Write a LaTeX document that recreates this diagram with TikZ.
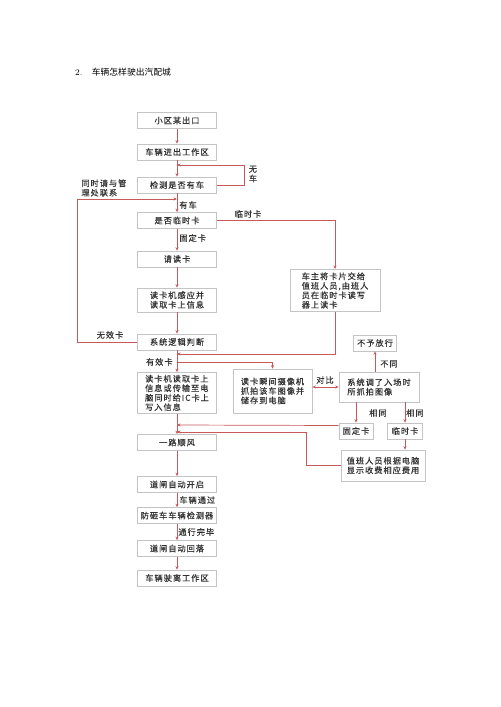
\documentclass[tikz,border=0pt]{standalone}
\usepackage{fontspec}
\usepackage{tikz}
\usetikzlibrary{arrows.meta, calc}
\newfontfamily\cjk[LetterSpace=12, FakeBold=0.3]{Noto Sans CJK SC}
\newfontfamily\cjktitle{Noto Sans CJK SC}
\definecolor{flow}{HTML}{C8585A}
\definecolor{frame}{HTML}{C4C4C4}

\begin{document}
\begin{tikzpicture}[x=0.03cm, y=-0.03cm,
    box/.style={rectangle, draw=frame, line width=0.6pt, fill=white, inner sep=1pt,
        minimum width=2.37cm, minimum height=0.48cm, align=left, text=black!80,
        font=\cjk\fontsize{7}{8.1}\selectfont},
    lbl/.style={inner sep=1pt, align=left, text=black!80, font=\cjk\fontsize{7}{8.1}\selectfont},
    arrow/.style={-{Stealth[length=3pt, width=2.6pt]}, draw=flow, line width=0.6pt},
    twoarrow/.style={{Stealth[length=3pt, width=2.6pt]}-{Stealth[length=3pt, width=2.6pt]}, draw=flow, line width=0.6pt}]

    \useasboundingbox (0,0) rectangle (500,707);

    % Title
    \node[anchor=west, inner sep=0pt, font=\fontsize{7.5}{9}\selectfont] (title) at (75,72)
        {2.\hspace{8pt}{\cjktitle 车辆怎样驶出汽配城}};

    % Main column
    \node[box] (exit) at (177,120.5) {小区某出口};
    \node[box] (zone) at (177,152) {车辆进出工作区};
    \node[box] (detect) at (177,185) {检测是否有车};
    \node[box] (istemp) at (177,220.5) {是否临时卡};
    \node[box] (read) at (177,259) {请读卡};
    \node[box, minimum height=0.72cm] (sense) at (177,300) {读卡机感应并\\读取卡上信息};
    \node[box] (logic) at (177,342) {系统逻辑判断};
    \node[box, minimum height=1.23cm] (write) at (177,393) {读卡机读取卡上\\信息或传输至电\\脑同时给IC卡上\\写入信息};
    \node[box] (bye) at (177,442.5) {一路顺风};
    \node[box] (open) at (177,484.5) {道闸自动开启};
    \node[box] (sensor) at (177,515.5) {防砸车车辆检测器};
    \node[box] (close) at (177,548.5) {道闸自动回落};
    \node[box] (leave) at (177,578) {车辆驶离工作区};

    % Right side boxes
    \node[box, minimum width=2.7cm, minimum height=1.27cm] (tempcard) at (335,290.5)
        {车主将卡片交给\\值班人员,由班人\\员在临时卡读写\\器上读卡};
    \node[box, minimum height=1.32cm] (snap) at (272.5,391) {读卡瞬间摄像机\\抓拍该车图像并\\储存到电脑};
    \node[box, minimum width=2.4cm, minimum height=0.9cm] (recall) at (379,387) {系统调了入场时\\所抓拍图像};
    \node[box, minimum width=1.29cm] (reject) at (375,343) {不予放行};
    \node[box, minimum width=1.02cm] (fixed) at (356,431) {固定卡};
    \node[box, minimum width=1.05cm] (temp) at (405,431) {临时卡};
    \node[box, minimum width=2.52cm, minimum height=0.93cm] (duty) at (383,465.5) {值班人员根据电脑\\显示收费相应费用};

    % Joints on the main column
    \coordinate (nocarjoin) at (177,165);
    \coordinate (invalidjoin) at (177,199);
    \coordinate (tempjoin) at (177,354);
    \coordinate (validsplit) at (177,362);
    \coordinate (fixedjoin) at (177,425);
    \coordinate (dutyjoin) at (177,432);

    % Main flow
    \draw[arrow] (exit) -- (zone);
    \draw[arrow] (zone) -- (detect);
    \draw[arrow] (detect) -- (istemp);
    \draw[arrow] (istemp) -- (read);
    \draw[arrow] (read) -- (sense);
    \draw[arrow] (sense) -- (logic);
    \draw[arrow] (logic) -- (write);
    \draw[arrow] (write) -- (bye);
    \draw[arrow] (bye) -- (open);
    \draw[arrow] (open) -- (sensor);
    \draw[arrow] (sensor) -- (close);
    \draw[arrow] (close) -- (leave);

    % Loops back to the column
    \draw[arrow] (detect.east) -- (244,185) |- (nocarjoin);
    \draw[arrow] (logic.west) -- (77,342) |- (invalidjoin);
    \draw[arrow] (istemp.east) -| (tempcard.north);
    \draw[arrow] (tempcard.south) |- (tempjoin);
    \draw[arrow] (validsplit) -| (snap.north);

    % Photo check
    \draw[twoarrow] (snap.east |- recall.west) -- (recall.west);
    \draw[arrow] (recall.north -| reject.south) -- (reject.south);
    \draw[arrow] (recall.south -| fixed.north) -- (fixed.north);
    \draw[arrow] (recall.south -| temp.north) -- (temp.north);
    \draw[arrow] (temp.south) -- (temp.south |- duty.north);
    \draw[arrow] ($(fixed.west)+(0,-5.5)$) -- (fixedjoin);
    \draw[arrow] (duty.west) -- (306,465.5) |- (dutyjoin);

    % Labels
    \node[lbl, align=center] (nocar) at (253,174) {无\\车};
    \node[lbl, anchor=west] (hascar) at (178,205) {有车};
    \node[lbl, anchor=west] (fixedlbl) at (178,238) {固定卡};
    \node[lbl] (templbl) at (248,214) {临时卡};
    \node[lbl] (invalid) at (110,335) {无效卡};
    \node[lbl, anchor=west] (contact) at (80,188) {同时请与管\\理处联系};
    \node[lbl, anchor=east] (valid) at (174,362) {有效卡};
    \node[lbl] (compare) at (325,380) {对比};
    \node[lbl] (differ) at (389,364) {不同};
    \node[lbl] (same1) at (378,413) {相同};
    \node[lbl] (same2) at (415,413) {相同};
    \node[lbl, anchor=west] (pass) at (178,500) {车辆通过};
    \node[lbl, anchor=west] (done) at (177,532) {通行完毕};

\end{tikzpicture}
\end{document}
